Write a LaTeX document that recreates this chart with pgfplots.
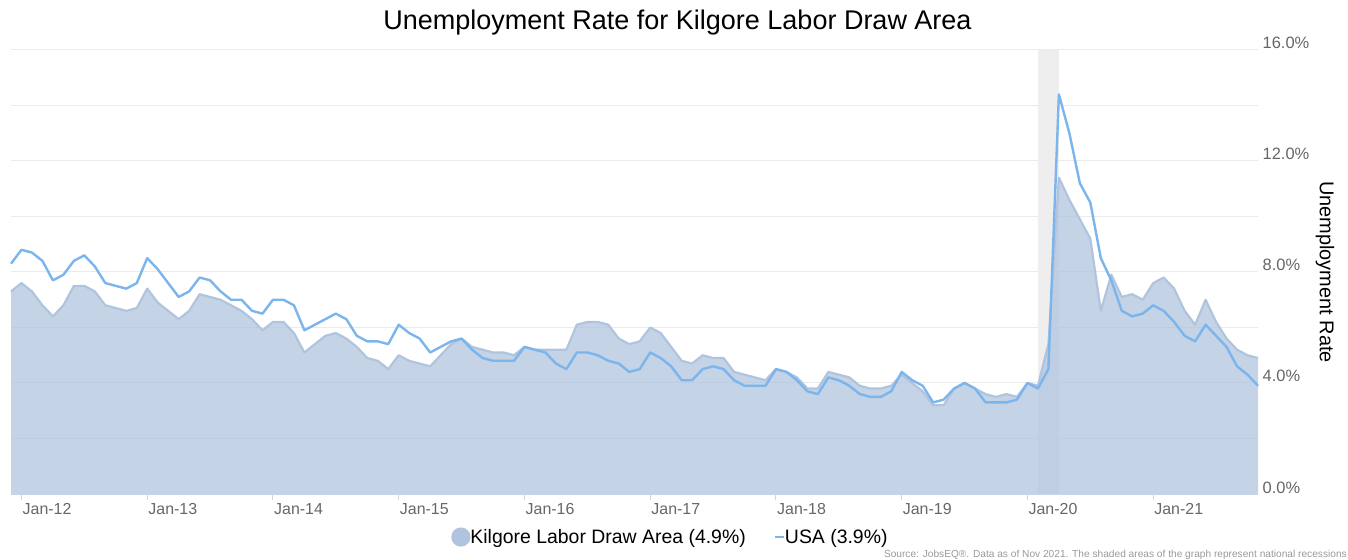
\documentclass[border=0pt]{standalone}
\usepackage{pgfplots}
\usepackage{pgfplotstable}
\pgfplotsset{compat=1.18}
\usepackage{fontspec}
\setmainfont{Liberation Sans}
\definecolor{usblue}{HTML}{7CB5EC}
\definecolor{kline}{HTML}{B0C4DE}
\definecolor{gridc}{HTML}{EBEBEB}
\definecolor{recess}{HTML}{EEEEEE}
\definecolor{tickc}{HTML}{666666}
\definecolor{axc}{HTML}{CCD6EB}
\definecolor{srcc}{HTML}{999999}

\pgfplotstableread{
m k u
0 7.3 8.3
1 7.6 8.8
2 7.3 8.7
3 6.8 8.4
4 6.4 7.7
5 6.8 7.9
6 7.5 8.4
7 7.5 8.6
8 7.3 8.2
9 6.8 7.6
10 6.7 7.5
11 6.6 7.4
12 6.7 7.6
13 7.4 8.5
14 6.9 8.1
15 6.6 7.6
16 6.3 7.1
17 6.6 7.3
18 7.2 7.8
19 7.1 7.7
20 7.0 7.3
21 6.8 7.0
22 6.6 7.0
23 6.3 6.6
24 5.9 6.5
25 6.2 7.0
26 6.2 7.0
27 5.8 6.8
28 5.1 5.9
29 5.4 6.1
30 5.7 6.3
31 5.8 6.5
32 5.6 6.3
33 5.3 5.7
34 4.9 5.5
35 4.8 5.5
36 4.5 5.4
37 5.0 6.1
38 4.8 5.8
39 4.7 5.6
40 4.6 5.1
41 5.0 5.3
42 5.4 5.5
43 5.6 5.6
44 5.3 5.2
45 5.2 4.9
46 5.1 4.8
47 5.1 4.8
48 5.0 4.8
49 5.3 5.3
50 5.2 5.2
51 5.2 5.1
52 5.2 4.7
53 5.2 4.5
54 6.1 5.1
55 6.2 5.1
56 6.2 5.0
57 6.1 4.8
58 5.6 4.7
59 5.4 4.4
60 5.5 4.5
61 6.0 5.1
62 5.8 4.9
63 5.3 4.6
64 4.8 4.1
65 4.7 4.1
66 5.0 4.5
67 4.9 4.6
68 4.9 4.5
69 4.4 4.1
70 4.3 3.9
71 4.2 3.9
72 4.1 3.9
73 4.5 4.5
74 4.4 4.4
75 4.2 4.1
76 3.8 3.7
77 3.8 3.6
78 4.4 4.2
79 4.3 4.1
80 4.2 3.9
81 3.9 3.6
82 3.8 3.5
83 3.8 3.5
84 3.9 3.7
85 4.3 4.4
86 4.0 4.1
87 3.7 3.9
88 3.2 3.3
89 3.2 3.4
90 3.8 3.8
91 4.0 4.0
92 3.8 3.8
93 3.6 3.3
94 3.5 3.3
95 3.6 3.3
96 3.5 3.4
97 4.0 4.0
98 3.9 3.8
99 5.4 4.5
100 11.4 14.4
101 10.6 13.0
102 9.9 11.2
103 9.2 10.5
104 6.6 8.5
105 7.9 7.7
106 7.1 6.6
107 7.2 6.4
108 7.0 6.5
109 7.6 6.8
110 7.8 6.6
111 7.4 6.2
112 6.6 5.7
113 6.1 5.5
114 7.0 6.1
115 6.2 5.7
116 5.6 5.3
117 5.2 4.6
118 5.0 4.3
119 4.9 3.9
}\datatable

\begin{document}
\begin{tikzpicture}
\useasboundingbox (0,0) rectangle (1348bp,560bp);
\begin{axis}[
  at={(11bp,66bp)}, anchor=south west,
  scale only axis, width=1247bp, height=444bp,
  xmin=0, xmax=119, ymin=0, ymax=16,
  axis x line*=bottom, axis y line*=right,
  x axis line style={draw=axc, line width=1bp, -},
  y axis line style={draw=none},
  xtick={1,13,25,37,49,61,73,85,97,109},
  xticklabels={Jan-12,Jan-13,Jan-14,Jan-15,Jan-16,Jan-17,Jan-18,Jan-19,Jan-20,Jan-21},
  xtick style={draw=axc, line width=1bp},
  tick align=outside, major tick length=6bp,
  xticklabel style={anchor=north west, inner sep=0pt, yshift=-3bp, xshift=1bp,
    text=tickc, font=\fontsize{16}{18}\selectfont},
  ytick={0,2,4,6,8,10,12,14,16},
  yticklabels={0.0\%,,4.0\%,,8.0\%,,12.0\%,,16.0\%},
  ytick style={draw=none},
  yticklabel style={anchor=base west, inner sep=0pt, xshift=-1.5bp, yshift=1bp,
    text=tickc, font=\fontsize{16.5}{18}\selectfont},
  ymajorgrids, major grid style={draw=gridc, line width=1bp},
  legend columns=2,
  legend style={at={(0.5288,-0.097)}, anchor=center, draw=none, fill=none,
    font=\fontsize{19.5}{22}\selectfont, inner sep=0pt,
    /tikz/every even column/.append style={column sep=26bp},
    /tikz/every odd column/.append style={column sep=-2bp}},
  legend cell align=left,
  clip=false,
]
\addplot[fill=recess, draw=none, forget plot] coordinates {(98,0) (98,16) (100,16) (100,0)} -- cycle;
\addplot[draw=none, fill=kline, fill opacity=0.75, forget plot]
  table[x=m, y=k] {\datatable} \closedcycle;
\addplot[draw=kline, line width=2.2bp, line join=round,
  legend image code/.code={\fill[kline] (0bp,0bp) circle (8.5bp);}]
  table[x=m, y=k] {\datatable};
\addlegendentry{Kilgore Labor Draw Area (4.9\%)}
\addplot[draw=usblue, line width=2.4bp, line join=round,
  legend image code/.code={\draw[usblue, line width=2.2bp] (0bp,0bp) -- (9bp,0bp);}]
  table[x=m, y=u] {\datatable};
\addlegendentry{USA (3.9\%)}
\end{axis}
\node[font=\fontsize{27.1}{31}\selectfont] at (677.5bp,537bp) {Unemployment Rate for Kilgore Labor Draw Area};
\node[rotate=-90, font=\fontsize{20}{24}\selectfont] at (1325bp,288bp) {Unemployment Rate};
\node[anchor=base east, inner sep=0pt, text=srcc, font=\fontsize{10.2}{12}\selectfont] at (1347bp,3bp) {Source: JobsEQ®. Data as of Nov 2021. The shaded areas of the graph represent national recessions};
\end{tikzpicture}
\end{document}
